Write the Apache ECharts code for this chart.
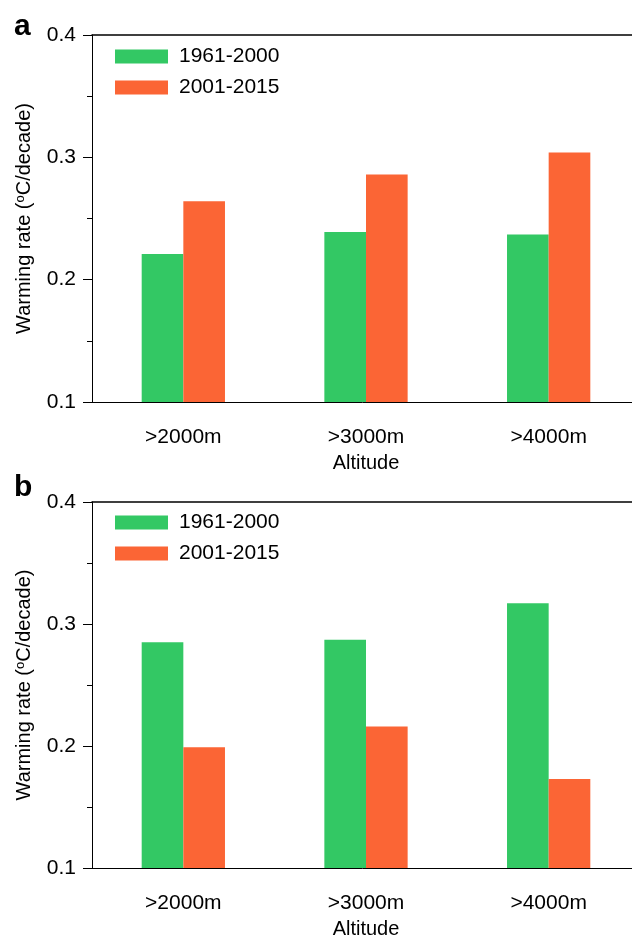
<!DOCTYPE html>
<html>
<head>
<meta charset="utf-8">
<title>Warming rate by altitude</title>
<script src="https://cdn.jsdelivr.net/npm/echarts@6/dist/echarts.min.js"></script>
<style>
  html, body { margin: 0; padding: 0; background: #fff; }
  #chart { width: 632px; height: 938px; }
</style>
</head>
<body>
<div id="chart"></div>
<script>
// data
const altitudes = ['>2000m', '>3000m', '>4000m']
const periods = ['1961-2000', '2001-2015']
const panelARates1961 = [0.221, 0.239, 0.237]
const panelARates2001 = [0.264, 0.286, 0.304]
const panelBRates1961 = [0.285, 0.287, 0.317]
const panelBRates2001 = [0.199, 0.216, 0.173]
const yTicks = [0.1, 0.2, 0.3, 0.4]

const FONT = 'Liberation Sans'
const GREEN = '#33C864'
const ORANGE = '#FB6535'

const chart = echarts.init(document.getElementById('chart'))

function bottomAxis (gridIndex) {
  return {
    type: 'category',
    gridIndex: gridIndex,
    data: altitudes,
    name: 'Altitude',
    nameLocation: 'middle',
    nameGap: 51,
    nameTextStyle: { fontFamily: FONT, fontSize: 20, color: '#000' },
    axisLine: { lineStyle: { color: '#000', width: 1 } },
    axisTick: { alignWithLabel: true, length: 4, lineStyle: { color: '#666', width: 1.5 } },
    axisLabel: { fontFamily: FONT, fontSize: 21, color: '#000', margin: 25 }
  }
}

function topLine (gridIndex) {
  return {
    type: 'category',
    gridIndex: gridIndex,
    position: 'top',
    data: altitudes,
    axisLine: { lineStyle: { color: '#000', width: 1.5 } },
    axisTick: { show: false },
    axisLabel: { show: false }
  }
}

function leftAxis (gridIndex) {
  return {
    type: 'value',
    gridIndex: gridIndex,
    min: yTicks[0],
    max: yTicks[yTicks.length - 1],
    interval: 0.1,
    name: '{t|Warming rate (}{s|o}{t|C/decade)}',
    nameLocation: 'middle',
    nameGap: 58,
    nameTextStyle: {
      color: '#000',
      rich: {
        t: { fontFamily: FONT, fontSize: 20, color: '#000' },
        s: { fontFamily: FONT, fontSize: 13, color: '#000', verticalAlign: 'top' }
      }
    },
    axisLine: { show: true, lineStyle: { color: '#000', width: 1 } },
    axisTick: { show: true, length: 9, lineStyle: { color: '#000' } },
    minorTick: { show: true, splitNumber: 2, length: 5, lineStyle: { color: '#000' } },
    splitLine: { show: false },
    axisLabel: {
      fontFamily: FONT,
      fontSize: 21,
      color: '#000',
      margin: 16,
      formatter: v => v.toFixed(1)
    }
  }
}

function legend (top) {
  return {
    orient: 'vertical',
    left: 115,
    top: top,
    padding: 0,
    itemWidth: 53,
    itemHeight: 14,
    itemGap: 10,
    icon: 'rect',
    data: periods,
    textStyle: { fontFamily: FONT, fontSize: 21, color: '#000', padding: [0, 0, 0, 6] }
  }
}

function bar (name, color, data, index) {
  return {
    name: name,
    type: 'bar',
    xAxisIndex: index,
    yAxisIndex: index,
    barWidth: '22.8%',
    barGap: '0%',
    itemStyle: { color: color },
    data: data
  }
}

chart.setOption({
  animation: false,
  grid: [
    { left: 92, top: 35, width: 548, height: 367, outerBoundsMode: 'none' },
    { left: 92, top: 502, width: 548, height: 366, outerBoundsMode: 'none' }
  ],
  legend: [legend(46), legend(512)],
  xAxis: [bottomAxis(0), bottomAxis(1), topLine(0), topLine(1)],
  yAxis: [leftAxis(0), leftAxis(1)],
  graphic: [
    { type: 'text', left: 14, top: 12, style: { text: 'a', fontFamily: FONT, fontSize: 30, fontWeight: 'bold', fill: '#000' } },
    { type: 'text', left: 14, top: 473, style: { text: 'b', fontFamily: FONT, fontSize: 30, fontWeight: 'bold', fill: '#000' } }
  ],
  series: [
    bar(periods[0], GREEN, panelARates1961, 0),
    bar(periods[1], ORANGE, panelARates2001, 0),
    bar(periods[0], GREEN, panelBRates1961, 1),
    bar(periods[1], ORANGE, panelBRates2001, 1)
  ]
})
</script>
</body>
</html>
